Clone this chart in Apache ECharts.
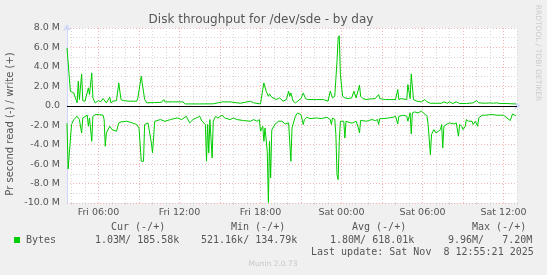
<!DOCTYPE html>
<html><head><meta charset="utf-8">
<script src="https://cdn.jsdelivr.net/npm/echarts@6/dist/echarts.min.js"></script>
<style>html,body{margin:0;padding:0;background:#f0f0f0}#c{width:547px;height:275px}</style>
</head><body><div id="c"></div>
<script>
const titleText = 'Disk throughput for /dev/sde - by day';
const yAxisTitle = 'Pr second read (-) / write (+)';
const sideText = 'RRDTOOL / TOBI OETIKER';
const tickLabels = ['Fri 06:00','Fri 12:00','Fri 18:00','Sat 00:00','Sat 06:00','Sat 12:00'];
const yMin = -10, yMax = 8, yStep = 2;
const seriesName = 'Bytes';
const legendHeaders = ['Cur (-/+)','Min (-/+)','Avg (-/+)','Max (-/+)'];
const legendValues = ['1.03M/ 185.58k','521.16k/ 134.79k','1.80M/ 618.01k','9.96M/   7.20M'];
const lastUpdate = 'Last update: Sat Nov  8 12:55:21 2025';
const footer = 'Munin 2.0.73';

// write (+), MB/s
const writeTimes = ['Fri 03:40','Fri 03:55','Fri 04:10','Fri 04:25','Fri 04:30','Fri 04:35','Fri 04:45','Fri 04:50','Fri 05:00','Fri 05:15','Fri 05:20','Fri 05:30','Fri 05:35','Fri 05:45','Fri 06:00','Fri 06:10','Fri 06:20','Fri 06:35','Fri 06:50','Fri 06:55','Fri 07:05','Fri 07:20','Fri 07:30','Fri 07:40','Fri 07:50','Fri 08:20','Fri 08:50','Fri 08:55','Fri 09:10','Fri 09:15','Fri 09:25','Fri 09:35','Fri 10:10','Fri 10:40','Fri 10:50','Fri 10:55','Fri 11:30','Fri 12:15','Fri 12:25','Fri 13:30','Fri 14:30','Fri 15:10','Fri 15:45','Fri 16:30','Fri 17:15','Fri 17:30','Fri 18:00','Fri 18:10','Fri 18:15','Fri 18:25','Fri 18:35','Fri 18:40','Fri 18:50','Fri 18:55','Fri 19:10','Fri 19:25','Fri 19:40','Fri 19:55','Fri 20:05','Fri 20:10','Fri 20:15','Fri 20:25','Fri 20:35','Fri 20:45','Fri 20:50','Fri 21:00','Fri 21:10','Fri 21:20','Fri 21:30','Fri 22:10','Fri 22:40','Fri 23:00','Fri 23:10','Fri 23:20','Fri 23:30','Fri 23:40','Fri 23:45','Fri 23:50','Fri 23:55','Sat 00:05','Sat 00:15','Sat 00:30','Sat 00:45','Sat 00:55','Sat 01:05','Sat 01:10','Sat 01:20','Sat 01:25','Sat 01:35','Sat 01:50','Sat 02:05','Sat 02:30','Sat 02:45','Sat 02:50','Sat 03:15','Sat 03:35','Sat 04:00','Sat 04:10','Sat 04:15','Sat 04:25','Sat 04:50','Sat 04:55','Sat 05:05','Sat 05:10','Sat 05:20','Sat 05:35','Sat 05:55','Sat 06:10','Sat 06:20','Sat 06:35','Sat 07:25','Sat 07:35','Sat 07:50','Sat 08:00','Sat 08:15','Sat 08:30','Sat 08:45','Sat 09:15','Sat 09:45','Sat 10:00','Sat 10:10','Sat 10:40','Sat 11:00','Sat 11:15','Sat 11:30','Sat 11:45','Sat 12:15','Sat 12:50','Sat 12:55'];
const writeVals = [5.95,1.49,1.32,0.30,2.52,0.64,3.28,0.53,0.47,1.84,1.15,3.38,0.81,0.30,0.53,0.40,0.74,0.30,0.88,0.30,0.47,0.53,2.35,0.64,0.53,0.47,0.47,0.81,3.04,3.04,0.64,0.30,0.33,0.36,0.64,0.40,0.40,0.40,0.19,0.19,0.20,0.40,0.40,0.26,0.47,0.30,0.19,1.67,2.35,1.49,0.98,1.22,0.88,1.08,0.64,0.81,0.47,0.64,1.49,0.98,1.32,0.47,0.30,0.47,0.40,0.74,1.32,0.74,0.64,0.64,0.64,0.47,1.49,0.81,0.98,4.58,6.98,7.20,3.21,0.98,0.81,0.74,0.81,1.49,0.81,0.88,2.11,0.98,0.74,0.64,0.70,0.74,1.15,0.74,0.64,0.64,0.64,1.67,0.64,0.74,0.64,2.18,0.74,3.28,0.64,0.47,0.40,0.64,0.40,0.26,0.26,0.40,0.26,0.40,0.23,0.40,0.23,0.23,0.30,0.53,0.30,0.26,0.30,0.26,0.30,0.23,0.23,0.19,0.19];

// read (-), MB/s, drawn below zero
const readTimes = ['Fri 03:40','Fri 03:45','Fri 04:00','Fri 04:10','Fri 04:25','Fri 04:35','Fri 04:45','Fri 04:50','Fri 05:10','Fri 05:15','Fri 05:20','Fri 05:30','Fri 05:35','Fri 05:45','Fri 06:05','Fri 06:20','Fri 06:25','Fri 06:30','Fri 06:35','Fri 06:50','Fri 07:00','Fri 07:05','Fri 07:20','Fri 07:30','Fri 07:40','Fri 08:05','Fri 08:30','Fri 08:50','Fri 09:00','Fri 09:10','Fri 09:20','Fri 09:25','Fri 09:40','Fri 09:55','Fri 10:00','Fri 10:10','Fri 10:35','Fri 10:55','Fri 11:20','Fri 11:50','Fri 12:10','Fri 12:30','Fri 12:45','Fri 13:00','Fri 13:15','Fri 13:30','Fri 13:40','Fri 13:55','Fri 14:00','Fri 14:05','Fri 14:10','Fri 14:15','Fri 14:20','Fri 14:25','Fri 14:30','Fri 14:40','Fri 14:50','Fri 15:10','Fri 15:20','Fri 15:45','Fri 16:00','Fri 16:15','Fri 16:45','Fri 17:15','Fri 17:30','Fri 17:45','Fri 17:55','Fri 18:00','Fri 18:10','Fri 18:15','Fri 18:20','Fri 18:30','Fri 18:35','Fri 18:40','Fri 18:45','Fri 18:50','Fri 19:05','Fri 19:20','Fri 19:35','Fri 19:50','Fri 20:05','Fri 20:10','Fri 20:15','Fri 20:20','Fri 20:35','Fri 20:45','Fri 20:50','Fri 21:00','Fri 21:10','Fri 21:15','Fri 21:25','Fri 21:40','Fri 22:10','Fri 22:30','Fri 22:55','Fri 23:10','Fri 23:15','Fri 23:20','Fri 23:30','Fri 23:35','Fri 23:40','Fri 23:45','Fri 23:50','Fri 23:55','Sat 00:10','Sat 00:15','Sat 00:20','Sat 00:40','Sat 00:50','Sat 01:05','Sat 01:15','Sat 01:20','Sat 01:25','Sat 01:50','Sat 02:00','Sat 02:15','Sat 02:30','Sat 02:40','Sat 02:45','Sat 02:50','Sat 03:05','Sat 03:30','Sat 03:50','Sat 04:00','Sat 04:10','Sat 04:15','Sat 04:35','Sat 04:50','Sat 04:55','Sat 05:05','Sat 05:10','Sat 05:15','Sat 05:25','Sat 05:40','Sat 05:55','Sat 06:10','Sat 06:20','Sat 06:25','Sat 06:35','Sat 06:40','Sat 06:50','Sat 07:00','Sat 07:10','Sat 07:20','Sat 07:25','Sat 07:30','Sat 07:35','Sat 07:50','Sat 08:00','Sat 08:20','Sat 08:30','Sat 08:40','Sat 08:45','Sat 08:55','Sat 09:00','Sat 09:10','Sat 09:15','Sat 09:25','Sat 09:30','Sat 09:40','Sat 09:45','Sat 09:55','Sat 10:05','Sat 10:10','Sat 10:25','Sat 10:40','Sat 11:00','Sat 11:15','Sat 11:30','Sat 11:45','Sat 12:00','Sat 12:15','Sat 12:30','Sat 12:40','Sat 12:50','Sat 12:55'];
const readVals = [-1.8,-6.5,-1.93,-1.42,-1.08,-1.42,-2.79,-1.25,-0.97,-2.11,-1.25,-3.65,-1.08,-0.91,-0.91,-0.97,-1.42,-4.16,-2.79,-2.11,-2.45,-2.28,-2.62,-1.76,-1.66,-1.59,-1.76,-1.93,-2.28,-5.71,-5.71,-1.93,-1.76,-3.82,-4.85,-1.59,-1.42,-1.59,-1.42,-1.25,-1.42,-1.08,-1.76,-1.42,-1.25,-1.08,-1.59,-1.93,-5.71,-1.93,-4.85,-1.42,-1.42,-5.36,-1.59,-1.10,-1.25,-0.97,-1.25,-1.42,-1.25,-1.42,-1.52,-1.59,-1.42,-1.59,-1.42,-2.62,-2.11,-3.65,-2.28,-4.68,-9.96,-3.65,-7.42,-2.50,-1.87,-1.59,-1.59,-1.87,-1.76,-1.93,-5.71,-2.28,-1.08,-0.73,-0.63,-0.91,-1.93,-1.42,-1.18,-1.32,-1.25,-1.32,-1.18,-1.42,-1.93,-1.25,-1.42,-2.96,-7.08,-7.59,-3.65,-1.59,-1.59,-3.31,-1.59,-1.76,-1.76,-1.59,-2.28,-2.79,-1.50,-1.59,-1.52,-1.42,-1.52,-1.42,-1.93,-1.32,-1.32,-1.25,-1.18,-1.08,-1.87,-1.08,-0.97,-1.08,-1.59,-0.73,-2.89,-0.73,-0.63,-0.73,-0.56,-0.84,-1.08,-1.93,-5.02,-2.96,-2.45,-2.79,-2.62,-2.45,-1.93,-4.33,-2.11,-1.87,-1.76,-1.87,-1.76,-3.13,-1.93,-2.11,-2.45,-2.11,-1.42,-1.59,-1.76,-1.59,-1.93,-1.59,-2.11,-1.25,-0.97,-0.97,-0.91,-0.91,-0.97,-0.97,-0.97,-1.25,-1.52,-0.84,-0.97,-1.03];

// time slots: 5-minute steps from Fri 03:40 to Sat 13:00
const pad = n => String(n).padStart(2, '0');
const startMin = 3 * 60 + 40, endMin = 24 * 60 + 13 * 60, stepMin = 5;
const slotMinutes = [];
for (let m = startMin; m <= endMin; m += stepMin) slotMinutes.push(m);
const slotName = m => (m >= 1440 ? 'Sat' : 'Fri') + ' ' + pad(Math.floor((m % 1440) / 60)) + ':' + pad(m % 60);
const categories = slotMinutes.map(slotName);
const isMajor = i => slotMinutes[i] % 180 === 0;
const isMinor = i => slotMinutes[i] % 60 === 0 && slotMinutes[i] % 180 !== 0;

const writeData = writeTimes.map((t, k) => [t, writeVals[k]]);
const readData = readTimes.map((t, k) => [t, readVals[k]]);

const GREEN = '#00cc00';
const FONT = '#555555';
const AXIS = '#cfd6f8';
const MGRID = '#f5b3b3';
const GRID = '#d8d8d8';
const sans = '"DejaVu Sans", sans-serif';
const mono = '"DejaVu Sans Mono", monospace';

const chart = echarts.init(document.getElementById('c'), null, {renderer: 'canvas'});
const txt = (text, x, y, font, fill, align, extra) => Object.assign({
  type: 'text', x: x, y: y, silent: true,
  style: {text: text, font: font, fill: fill, align: align || 'left', verticalAlign: 'middle'}
}, extra || {});

chart.setOption({
  animation: false,
  backgroundColor: '#f0f0f0',
  grid: {left: 67, top: 28, width: 450, height: 175, show: true, backgroundColor: '#ffffff', borderWidth: 0, containLabel: false, outerBoundsMode: 'none'},
  xAxis: [{
    type: 'category', data: categories, boundaryGap: false, gridIndex: 0,
    axisLine: {show: true, lineStyle: {color: AXIS, width: 1}, symbol: ['none', 'arrow'], symbolSize: [6, 7], symbolOffset: [0, 4]},
    axisTick: {show: true, interval: (i) => isMajor(i), length: 2, lineStyle: {color: MGRID}},
    axisLabel: {show: true, interval: (i, v) => tickLabels.includes(v), color: FONT, fontFamily: sans, fontSize: 9.5, margin: 5},
    splitLine: {show: true, interval: (i) => isMajor(i), lineStyle: {color: MGRID, type: [1, 2], width: 1}}
  }, {
    type: 'category', data: categories, boundaryGap: false, gridIndex: 0, position: 'bottom',
    axisLine: {show: false},
    axisTick: {show: true, interval: (i) => isMinor(i), length: 2, lineStyle: {color: GRID}},
    axisLabel: {show: false},
    splitLine: {show: true, interval: (i) => isMinor(i), lineStyle: {color: GRID, type: [1, 2], width: 1}}
  }],
  yAxis: {
    type: 'value', min: yMin, max: yMax, interval: yStep,
    axisLine: {show: true, lineStyle: {color: AXIS, width: 1}, symbol: ['none', 'arrow'], symbolSize: [6, 7], symbolOffset: [0, 4]},
    axisTick: {show: false},
    axisLabel: {color: FONT, fontFamily: sans, fontSize: 9.5, margin: 7,
      formatter: v => v === 0 ? '0.0' : v.toFixed(1) + ' M'},
    splitLine: {show: true, lineStyle: {color: MGRID, type: [1, 2], width: 1}},
    minorTick: {show: false, splitNumber: 2},
    minorSplitLine: {show: true, lineStyle: {color: GRID, type: [1, 2], width: 1}}
  },
  series: [{
    name: seriesName + ' write', type: 'line', xAxisIndex: 0, data: writeData,
    showSymbol: false, symbol: 'none', lineStyle: {color: GREEN, width: 1}, z: 3,
    markLine: {silent: true, symbol: 'none', label: {show: false}, animation: false,
      lineStyle: {color: '#000000', width: 1, type: 'solid'}, data: [{yAxis: 0}]}
  }, {
    name: seriesName + ' read', type: 'line', xAxisIndex: 0, data: readData,
    showSymbol: false, symbol: 'none', lineStyle: {color: GREEN, width: 1}, z: 3
  }],
  graphic: [
    txt(titleText, 261, 19.5, '12px ' + sans, FONT, 'center'),
    txt(yAxisTitle, 10.5, 124, '10px ' + sans, FONT, 'center', {rotation: Math.PI / 2}),
    txt(sideText, 537.5, 53, '7.5px ' + sans, '#cccccc', 'center', {rotation: -Math.PI / 2}),
    {type: 'rect', silent: true, shape: {x: 14, y: 237, width: 6, height: 6}, style: {fill: GREEN}},
    txt(seriesName, 26, 240, '10px ' + mono, FONT),
    txt(legendHeaders[0], 111, 227.5, '10px ' + mono, FONT),
    txt(legendHeaders[1], 231, 227.5, '10px ' + mono, FONT),
    txt(legendHeaders[2], 352, 227.5, '10px ' + mono, FONT),
    txt(legendHeaders[3], 472, 227.5, '10px ' + mono, FONT),
    txt(legendValues[0], 95, 240, '10px ' + mono, FONT),
    txt(legendValues[1], 201, 240, '10px ' + mono, FONT),
    txt(legendValues[2], 330, 240, '10px ' + mono, FONT),
    txt(legendValues[3], 448, 240, '10px ' + mono, FONT),
    txt(lastUpdate, 311, 252, '10px ' + mono, FONT),
    txt(footer, 273, 264, '7.5px ' + sans, '#c8c8c8', 'center')
  ]
});
</script></body></html>
